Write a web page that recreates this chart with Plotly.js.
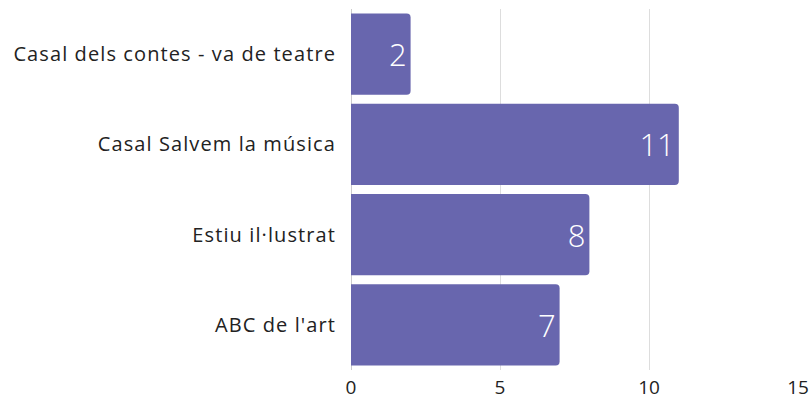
<!DOCTYPE html>
<html><head><meta charset="utf-8">
<script src="https://cdn.plot.ly/plotly-3.0.1.min.js"></script>
<style>html,body{margin:0;padding:0;background:#fff}#chart{width:812px;height:401px}
#chart .ytick text{letter-spacing:1.1px}</style>
</head><body><div id="chart"></div>
<script>
const categories = ["Casal dels contes - va de teatre", "Casal Salvem la música", "Estiu il·lustrat", "ABC de l'art"];
const values = [2, 11, 8, 7];
const tickVals = [0, 5, 10, 15];

Plotly.newPlot('chart', [{
  type: 'bar', orientation: 'h',
  x: values, y: categories,
  text: values.map(String),
  textposition: 'inside', insidetextanchor: 'end',
  textfont: {family: 'Open Sans', size: 31, color: '#ffffff', weight: 300},
  marker: {color: '#6866ae'},
  hoverinfo: 'none', cliponaxis: false
}], {
  width: 812, height: 401,
  margin: {l: 351, r: 14, t: 9, b: 31},
  paper_bgcolor: '#fff', plot_bgcolor: '#fff',
  bargap: 0.1, barcornerradius: 4,
  showlegend: false,
  font: {family: 'Open Sans', color: '#222'},
  xaxis: {range: [0, 15], tickvals: tickVals, ticktext: tickVals.map(String),
    showgrid: true, gridcolor: '#dddddd', gridwidth: 1,
    zeroline: true, zerolinecolor: '#cccccc', zerolinewidth: 1,
    tickfont: {size: 19, color: '#222'}, ticks: '', ticklabelstandoff: 4, fixedrange: true},
  yaxis: {autorange: 'reversed', tickfont: {size: 20, color: '#222'}, ticks: '', ticklabelstandoff: 14,
    showgrid: false, fixedrange: true}
}, {displayModeBar: false, staticPlot: true});
</script></body></html>
